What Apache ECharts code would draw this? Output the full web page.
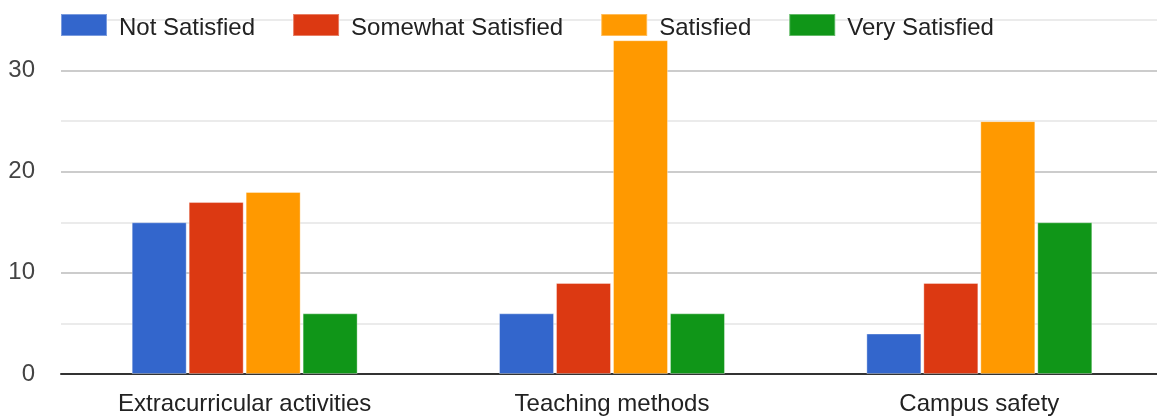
<!DOCTYPE html>
<html><head><meta charset="utf-8">
<script src="https://cdn.jsdelivr.net/npm/echarts@6/dist/echarts.min.js"></script>
<style>html,body{margin:0;padding:0;background:#fff;overflow:hidden}#c{width:1157px;height:416px}</style>
</head><body><div id="c"></div>
<script>
const categories = ['Extracurricular activities', 'Teaching methods', 'Campus safety'];
const seriesNames = ['Not Satisfied', 'Somewhat Satisfied', 'Satisfied', 'Very Satisfied'];
const notSatisfied = [15, 6, 4];
const somewhatSatisfied = [17, 9, 9];
const satisfied = [18, 33, 25];
const verySatisfied = [6, 6, 15];
const colors = ['#3366cc', '#dc3912', '#ff9900', '#109618'];
const values = [notSatisfied, somewhatSatisfied, satisfied, verySatisfied];

const chart = echarts.init(document.getElementById('c'));
chart.setOption({
  animation: false,
  textStyle: { fontFamily: 'Liberation Sans, Arial, sans-serif' },
  legend: {
    top: 13, left: 60, padding: 0,
    itemWidth: 46, itemHeight: 22, itemGap: 37,
    icon: 'rect',
    formatter: name => '{t|' + name + '}',
    textStyle: {
      fontSize: 24, color: '#222',
      rich: { t: { fontSize: 24, color: '#222', padding: [6, 0, 0, 7],
                   fontFamily: 'Liberation Sans, Arial, sans-serif' } }
    },
    data: seriesNames
  },
  grid: { left: 61, right: -6, top: 20, bottom: 42, outerBoundsMode: 'none', containLabel: false },
  xAxis: {
    type: 'category', data: categories,
    axisLine: { lineStyle: { color: '#333', width: 2 } },
    axisTick: { show: false },
    axisLabel: { fontSize: 24, color: '#222', margin: 18 }
  },
  yAxis: {
    type: 'value', min: 0, max: 35, interval: 5,
    axisLine: { show: false }, axisTick: { show: false },
    axisLabel: { fontSize: 24, color: '#444', margin: 26,
      formatter: v => (v % 10 === 0 ? String(v) : '') },
    splitLine: { lineStyle: { color: ['#cccccc', '#ebebeb'], width: 2 } }
  },
  series: values.map((d, i) => ({
    name: seriesNames[i], type: 'bar', data: d,
    barWidth: 55, barGap: '3.6%',
    itemStyle: { color: colors[i], borderColor: 'rgba(255,255,255,0.35)', borderWidth: 1 }
  }))
});
</script></body></html>
